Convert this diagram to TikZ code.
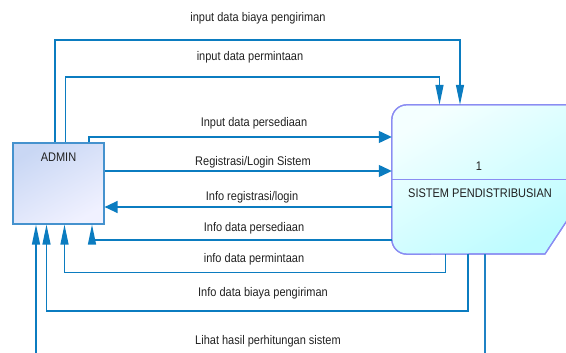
\documentclass[tikz,border=0pt]{standalone}
\usepackage{fontspec}
\setmainfont[FakeStretch=0.88]{Liberation Sans}
\usetikzlibrary{arrows.meta}

\definecolor{flowblue}{HTML}{1F82C4}
\definecolor{tipblue}{HTML}{0B7CC0}
\definecolor{adminedge}{HTML}{4592CE}
\definecolor{adminfillA}{HTML}{C9D7F4}
\definecolor{adminfillB}{HTML}{F0F1FF}
\definecolor{sysedge}{HTML}{8A8CF2}
\definecolor{sysfillA}{HTML}{F4FFFF}
\definecolor{sysfillB}{HTML}{BDFCFF}
\definecolor{labelgray}{HTML}{202020}

\tikzset{
  flow/.style={draw=flowblue, line width=1.3pt},
  htip/.style={-{Triangle[length=13pt,width=12pt]}, tipblue},
  vtip/.style={-{Triangle[length=20pt,width=8pt]}, tipblue},
  flowlabel/.style={font=\fontsize{12.5}{14}\selectfont, text=labelgray, inner sep=0pt},
  entitybox/.style={draw=adminedge, line width=1.2pt, minimum width=91pt, minimum height=81pt,
    inner sep=0pt, top color=adminfillA, bottom color=adminfillB, shading angle=30},
  procframe/.style={minimum width=178pt, minimum height=149pt, inner sep=0pt},
  procedge/.style={draw=sysedge, line width=1.2pt},
}

\begin{document}
\begin{tikzpicture}[x=1pt,y=-1pt]
\useasboundingbox (0,0) rectangle (566,353);
\clip (0,0) rectangle (566,353);

% external entity
\node[entitybox] (admin) at (58.5,183.5) {};
\node[flowlabel] (admintext) at (58.5,157) {ADMIN};

% process (runs past the right edge, lower right corner cut)
\node[procframe] (sys) at (481,179.5) {};
\path[procedge, top color=sysfillA, bottom color=sysfillB, shading angle=30]
  (sys.north east) [rounded corners=15pt] -- (sys.north west) -- (sys.south west)
  [sharp corners] -- (545,254) -- (570,216) -- cycle;
\draw[procedge] (sys.north east) [rounded corners=15pt] -- (sys.north west) -- (sys.south west)
  [sharp corners] -- (545,254) -- (570,216);
\draw[procedge] (sys.west) -- (sys.east);
\node[flowlabel] (sysno) at (479,166) {1};
\node[flowlabel] (sysname) at (480,193) {SISTEM PENDISTRIBUSIAN};

% track points of the routed flows
\coordinate (a1) at (55,40);    \coordinate (b1) at (460,40);
\coordinate (a2) at (65.5,77);  \coordinate (b2) at (439.5,77);
\coordinate (a3) at (89,137);
\coordinate (a4) at (0,171);
\coordinate (a5) at (0,207);
\coordinate (a6) at (92,240);
\coordinate (a7) at (64.5,272.5); \coordinate (b7) at (445.5,272.5);
\coordinate (a8) at (46.5,311);   \coordinate (b8) at (468,311);
\coordinate (a9) at (36,360);     \coordinate (b9) at (485,360);

% admin -> system
\draw[flow, vtip] (admin.north -| a1) -- (a1) -- (b1) -- (sys.north -| b1);
\draw[flow, vtip] (admin.north -| a2) -- (a2) -- (b2) -- (sys.north -| b2);
\draw[flow, htip] (admin.north -| a3) -- (a3) -- (sys.west |- a3);
\draw[flow, htip] (admin.east |- a4) -- (sys.west |- a4);

% system -> admin
\draw[flow, htip] (sys.west |- a5) -- (admin.east |- a5);
\draw[flow, vtip] (sys.west |- a6) -- (a6) -- (admin.south -| a6);
\draw[flow, vtip] (sys.south -| b7) -- (b7) -- (a7) -- (admin.south -| a7);
\draw[flow, vtip] (sys.south -| b8) -- (b8) -- (a8) -- (admin.south -| a8);
\draw[flow] (sys.south -| b9) -- (b9);
\draw[flow, vtip] (a9) -- (admin.south -| a9);

% flow labels
\node[flowlabel] (l1) at (258,18)  {input data biaya pengiriman};
\node[flowlabel] (l2) at (250,57)  {input data permintaan};
\node[flowlabel] (l3) at (254,123) {Input data persediaan};
\node[flowlabel] (l4) at (253,162) {Registrasi/Login Sistem};
\node[flowlabel] (l5) at (252,197) {Info registrasi/login};
\node[flowlabel] (l6) at (254,228) {Info data persediaan};
\node[flowlabel] (l7) at (254,259) {info data permintaan};
\node[flowlabel] (l8) at (263,293) {Info data biaya pengiriman};
\node[flowlabel] (l9) at (268,341) {Lihat hasil perhitungan sistem};
\end{tikzpicture}
\end{document}
